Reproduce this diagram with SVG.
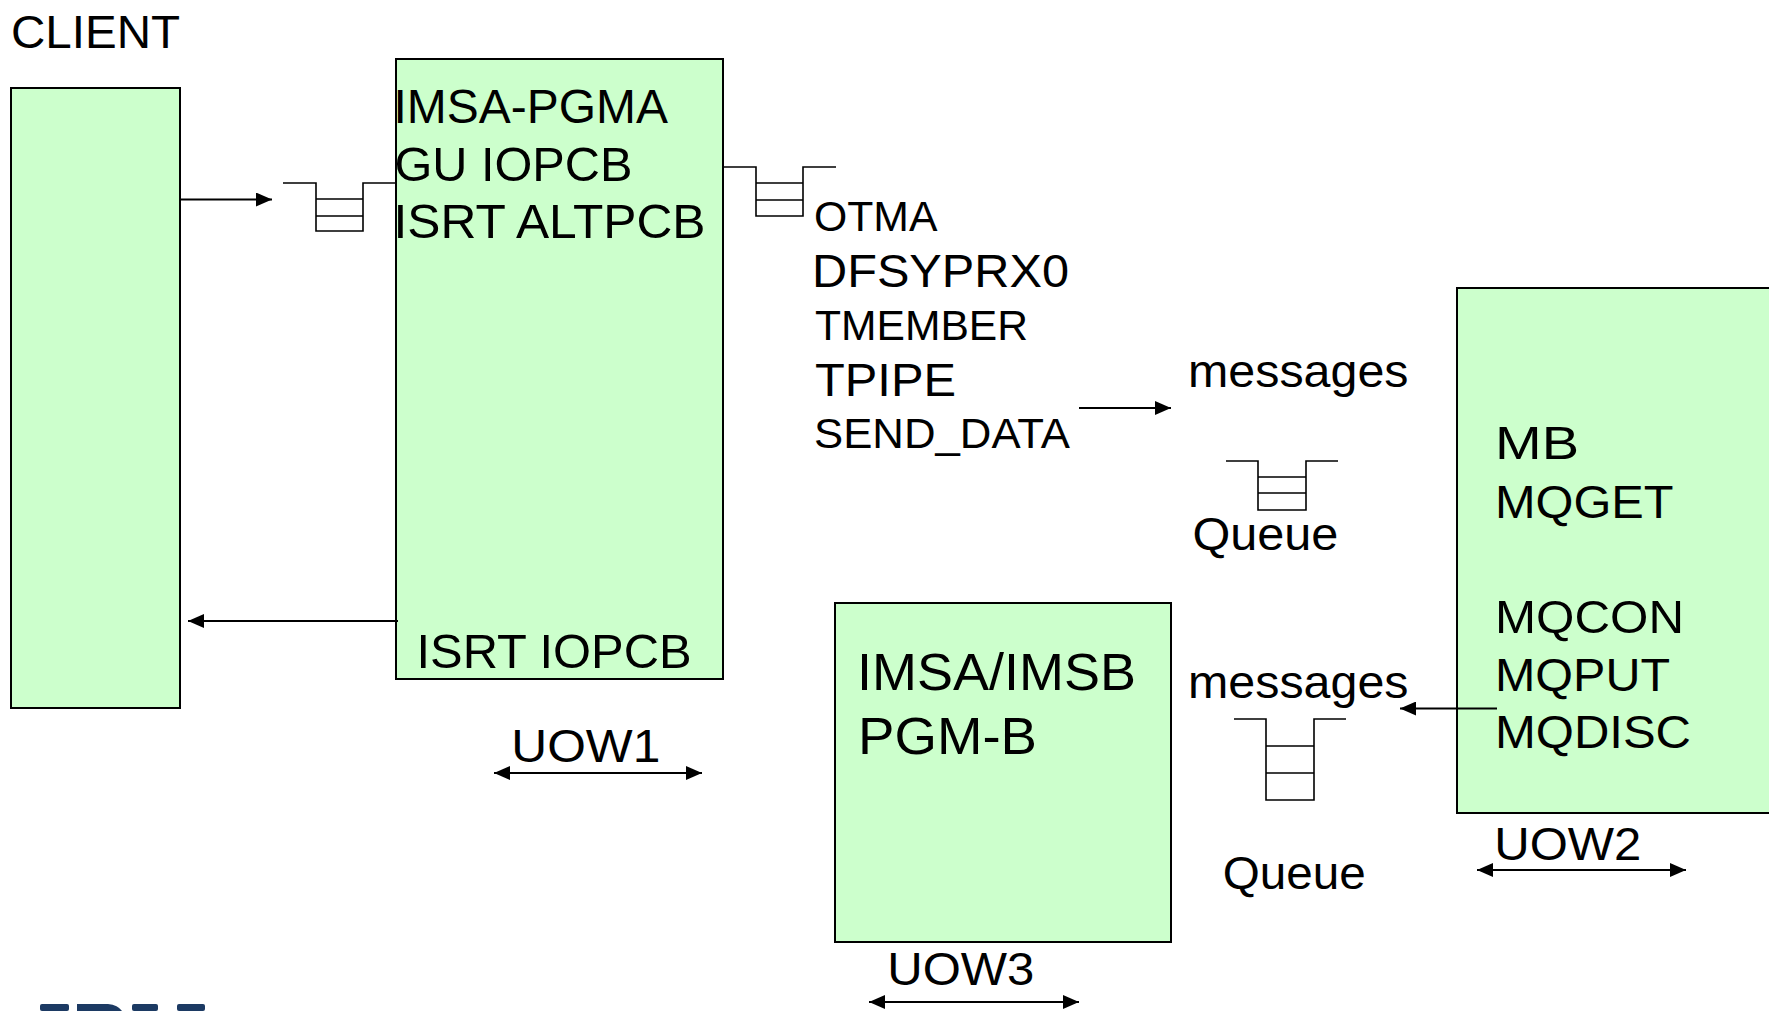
<svg xmlns="http://www.w3.org/2000/svg" width="1769" height="1012" viewBox="0 0 1769 1012">
<style>
text{font-family:"Liberation Sans",Arial,sans-serif;fill:#000}
.t{font-size:47px}
.p{font-size:48px}
.s{font-size:42px}
.b{font-size:52px}
.u{font-size:46px}
.box{fill:#ccffcc;stroke:#000;stroke-width:2}
.q{fill:none;stroke:#000;stroke-width:1.6}
.c{fill:none;stroke:#000;stroke-width:2}
.logo{fill:#1c3a63}
</style>
<defs>
<marker id="ah" markerUnits="userSpaceOnUse" markerWidth="16" markerHeight="14" refX="16" refY="7" orient="auto-start-reverse">
<path d="M0,0 L16,7 L0,14 z" fill="#000"/>
</marker>
</defs>
<rect width="1769" height="1012" fill="#fff"/>

<g id="client">
<text class="u" x="11" y="48" textLength="169" lengthAdjust="spacingAndGlyphs">CLIENT</text>
<rect class="box" x="11" y="88" width="169" height="620"/>
</g>

<g id="queue1"><path class="q" d="M283,183 H316 V231 H363 V183 H396 M316,199 H363 M316,216 H363"/></g>

<g id="pgma">
<rect class="box" x="396" y="59" width="327" height="620"/>
<text class="p" x="393.5" y="123" textLength="274.5" lengthAdjust="spacingAndGlyphs">IMSA-PGMA</text>
<text class="p" x="394.4" y="181" textLength="238" lengthAdjust="spacingAndGlyphs">GU IOPCB</text>
<text class="p" x="393.5" y="238" textLength="312" lengthAdjust="spacingAndGlyphs">ISRT ALTPCB</text>
<text class="p" x="416.5" y="668" textLength="275" lengthAdjust="spacingAndGlyphs">ISRT IOPCB</text>
</g>

<g id="queue2"><path class="q" d="M723,167 H756 V216 H803 V167 H836 M756,183 H803 M756,200 H803"/></g>

<g id="otma">
<text class="s" x="814" y="231" textLength="123.5" lengthAdjust="spacingAndGlyphs">OTMA</text>
<text class="t" x="812" y="287" textLength="257" lengthAdjust="spacingAndGlyphs">DFSYPRX0</text>
<text class="s" x="815" y="340" textLength="213" lengthAdjust="spacingAndGlyphs">TMEMBER</text>
<text class="t" x="815" y="396" textLength="141" lengthAdjust="spacingAndGlyphs">TPIPE</text>
<text class="s" x="814" y="448" textLength="256" lengthAdjust="spacingAndGlyphs">SEND_DATA</text>
</g>

<g id="queue3">
<text class="t" x="1188" y="387" textLength="220.5" lengthAdjust="spacingAndGlyphs">messages</text>
<path class="q" d="M1226,461 H1258 V510 H1306 V461 H1338 M1258,477 H1306 M1258,493 H1306"/>
<text class="t" x="1192.4" y="550" textLength="146" lengthAdjust="spacingAndGlyphs">Queue</text>
</g>

<g id="mb">
<rect class="box" x="1457" y="288" width="330" height="525"/>
<text class="t" x="1495" y="459" textLength="84" lengthAdjust="spacingAndGlyphs">MB</text>
<text class="t" x="1495" y="518" textLength="178.5" lengthAdjust="spacingAndGlyphs">MQGET</text>
<text class="t" x="1495" y="633" textLength="189" lengthAdjust="spacingAndGlyphs">MQCON</text>
<text class="t" x="1495" y="691" textLength="175" lengthAdjust="spacingAndGlyphs">MQPUT</text>
<text class="t" x="1495" y="748" textLength="196" lengthAdjust="spacingAndGlyphs">MQDISC</text>
</g>

<g id="queue4">
<text class="t" x="1188" y="698" textLength="220.5" lengthAdjust="spacingAndGlyphs">messages</text>
<path class="q" d="M1234,719 H1266 V800 H1314 V719 H1346 M1266,746 H1314 M1266,773 H1314"/>
<text class="t" x="1222.7" y="889" textLength="143" lengthAdjust="spacingAndGlyphs">Queue</text>
</g>

<g id="pgmb">
<rect class="box" x="835" y="603" width="336" height="339"/>
<text class="b" x="857" y="690" textLength="279" lengthAdjust="spacingAndGlyphs">IMSA/IMSB</text>
<text class="b" x="858" y="754" textLength="179" lengthAdjust="spacingAndGlyphs">PGM-B</text>
</g>

<g id="uow-labels">
<text class="u" x="511.3" y="762" textLength="149" lengthAdjust="spacingAndGlyphs">UOW1</text>
<text class="u" x="1494.3" y="860" textLength="147" lengthAdjust="spacingAndGlyphs">UOW2</text>
<text class="u" x="887.3" y="985" textLength="147" lengthAdjust="spacingAndGlyphs">UOW3</text>
</g>

<g id="connectors">
<path class="c" d="M180,199.5 H272" marker-end="url(#ah)"/>
<path class="c" d="M398,621 H188" marker-end="url(#ah)"/>
<path class="c" d="M1079,408 H1171" marker-end="url(#ah)"/>
<path class="c" d="M1497,708.5 H1400" marker-end="url(#ah)"/>
<path class="c" d="M494,773 H702" marker-start="url(#ah)" marker-end="url(#ah)"/>
<path class="c" d="M1477,870 H1686" marker-start="url(#ah)" marker-end="url(#ah)"/>
<path class="c" d="M869,1002 H1079" marker-start="url(#ah)" marker-end="url(#ah)"/>
</g>

<g id="logo-fragment">
<rect class="logo" x="40" y="1004" width="29" height="7" rx="2"/>
<path class="logo" d="M77,1004 H108 Q118,1005 122,1011 H77 Z"/>
<rect class="logo" x="132" y="1004" width="26" height="7" rx="2"/>
<rect class="logo" x="177" y="1004" width="28" height="7" rx="2"/>
</g>
</svg>
